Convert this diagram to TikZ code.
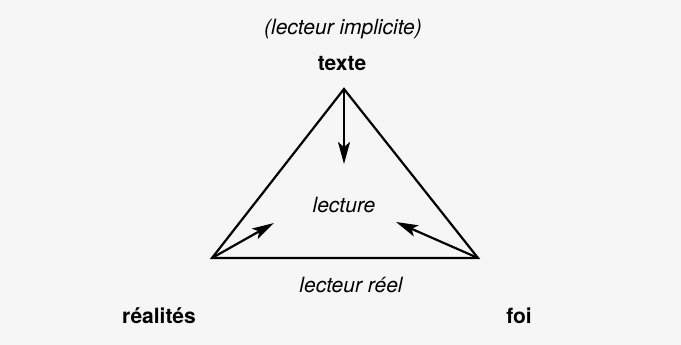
\documentclass[tikz,border=0pt]{standalone}
\usepackage{fontspec}
\setmainfont{TeX Gyre Heros}
\usetikzlibrary{arrows.meta}
\begin{document}
\begin{tikzpicture}[x=1pt,y=-1pt,
  lbl/.style={font=\fontsize{21}{24}\selectfont\itshape, inner sep=0pt, anchor=center},
  blbl/.style={font=\fontsize{21}{24}\selectfont\bfseries, inner sep=0pt, anchor=center},
  edge/.style={line width=2.2pt, line join=miter},
  arr/.style={line width=2.2pt, -{Stealth[length=22pt,width=12pt,inset=5pt]}}]
\fill[gray!7] (0,0) rectangle (681,345);
\useasboundingbox (0,0) rectangle (681,345);
\coordinate (apex) at (344,89);
\coordinate (left) at (212,258);
\coordinate (right) at (478,258);
\coordinate (tipA) at (344,164);
\coordinate (tipL) at (274,223);
\coordinate (tipR) at (396,222);
\draw[edge] (apex) -- (left) -- (right) -- cycle;
\draw[arr] (apex) -- (tipA);
\draw[arr] (left) -- (tipL);
\draw[arr] (right) -- (tipR);
\node[lbl] (impl) at (343,29) {(lecteur implicite)};
\node[blbl] (texte) at (342,64) {texte};
\node[lbl] (lecture) at (344,205) {lecture};
\node[lbl] (reel) at (351,285) {lecteur réel};
\node[blbl] (real) at (159,316) {réalités};
\node[blbl] (foi) at (519,316) {foi};
\end{tikzpicture}
\end{document}
